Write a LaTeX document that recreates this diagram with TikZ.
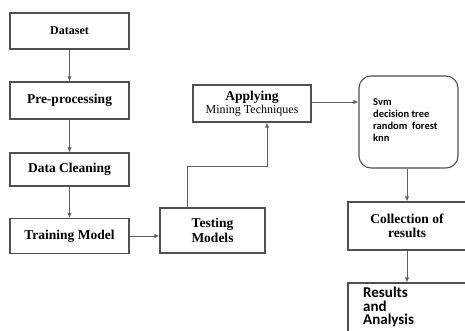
\documentclass[tikz,border=0pt]{standalone}
\usepackage{fontspec}
\setmainfont{Liberation Serif}
\newfontfamily\calib{Carlito}
\usetikzlibrary{arrows.meta}
\definecolor{boxgray}{HTML}{505050}
\definecolor{linegray}{HTML}{606060}
\tikzset{
  box/.style={draw=boxgray, line width=1.3pt, rectangle, inner sep=0pt, align=center, font=\fontsize{13.5}{14.5}\selectfont\bfseries},
  arr/.style={draw=linegray, line width=0.9pt, -{Latex[length=5pt,width=4.5pt]}},
  conn/.style={draw=linegray, line width=0.9pt}
}
\begin{document}
\begin{tikzpicture}[x=1pt,y=-1pt]
\useasboundingbox (0,0) rectangle (465,331);
\clip (0,0) rectangle (465,331);
\node[box, minimum width=119pt, minimum height=36pt, font=\fontsize{12}{13}\selectfont\bfseries] (dataset) at (69.5,31) {Dataset};
\node[box, minimum width=119pt, minimum height=37pt] (pre) at (69.5,100.5) {Pre-processing};
\node[box, minimum width=119pt, minimum height=33pt] (clean) at (69.5,169.5) {Data Cleaning};
\node[box, minimum width=119pt, minimum height=35pt] (train) at (69.5,236) {Training Model};
\node[box, minimum width=105pt, minimum height=45pt] (test) at (212.5,230.5) {Testing\\Models};
\node[box, minimum width=118pt, minimum height=37pt] (apply) at (252,103.5) {Applying\\[-1pt]{\fontsize{12}{13}\selectfont\mdseries Mining Techniques}};
\node[draw=boxgray, line width=1.1pt, rounded corners=12pt, minimum width=99pt, minimum height=92pt, inner sep=0pt] (algo) at (408.5,122) {};
\node[anchor=north west, inner sep=0pt, align=left, font=\calib\fontsize{10.5}{12}\selectfont\bfseries] (algotext) at (373,98) {Svm\\decision tree\\random\ \ forest\\knn};
\node[box, minimum width=118pt, minimum height=48pt] (coll) at (407,226) {Collection of\\results};
\node[draw=boxgray, line width=1.3pt, rectangle, minimum width=118pt, minimum height=62pt, inner sep=0pt] (res) at (407,314) {};
\node[anchor=north west, inner sep=0pt, align=left, font=\calib\fontsize{15}{13.5}\selectfont\bfseries] (restext) at (363,287) {Results\\and\\Analysis};
\draw[arr] (dataset) -- (pre);
\draw[arr] (pre) -- (clean);
\draw[arr] (clean) -- (train);
\draw[arr] (train.east) -- (train.east -| test.west);
\coordinate (b1) at (187,166);
\coordinate (b2) at (267,166);
\draw[arr] (test.north -| b1) -- (b1) -- (b2) -- (apply.south -| b2);
\draw[arr] (apply.east |- 0,102) -- (algo.west |- 0,102);
\draw[arr] (algo.south -| 407,0) -- (coll.north);
\draw[arr] (coll) -- (res);
\end{tikzpicture}
\end{document}
